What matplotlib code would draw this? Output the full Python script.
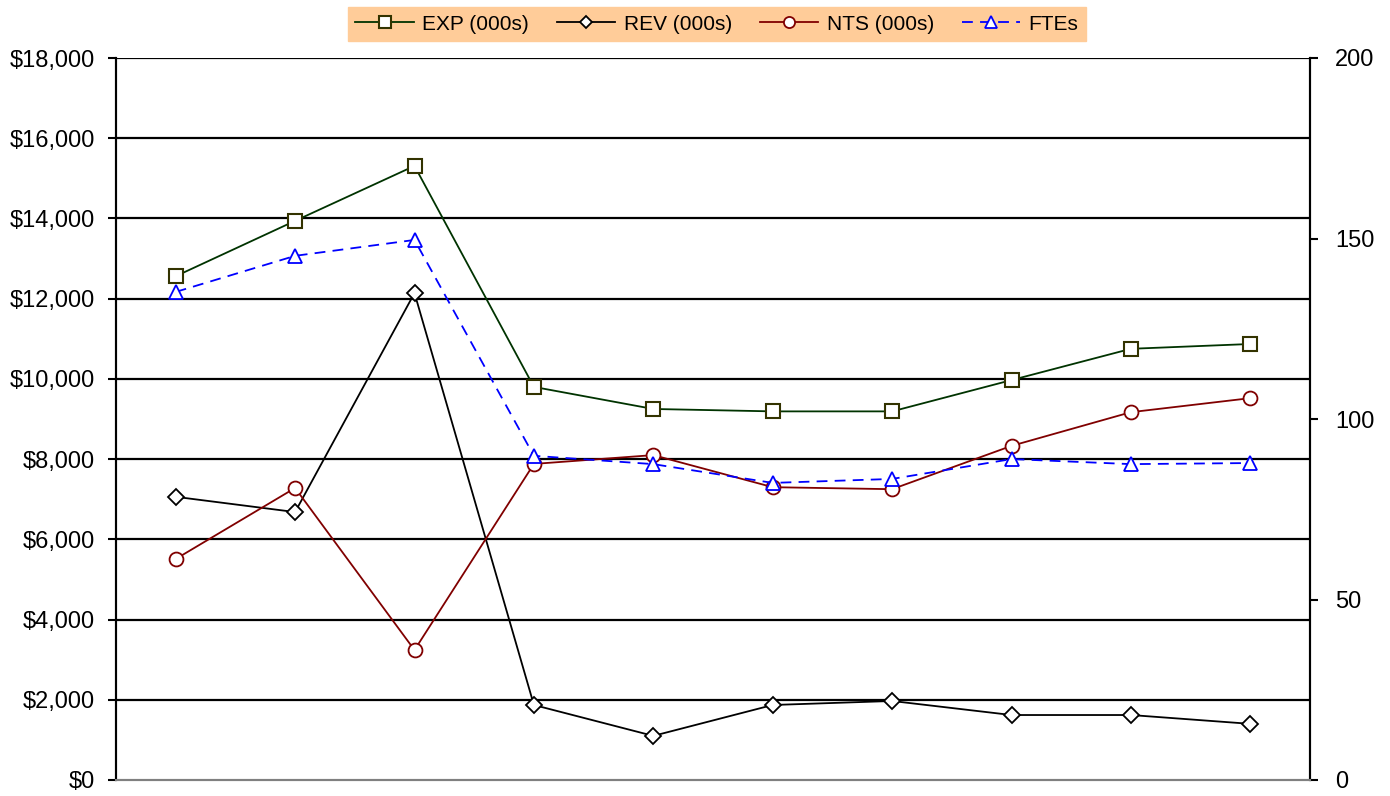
import matplotlib
matplotlib.use("Agg")
import matplotlib.pyplot as plt
from matplotlib.ticker import FuncFormatter

plt.rcParams['font.family'] = ['Liberation Sans', 'DejaVu Sans']

periods = list(range(10))
exp_vals = [12560, 13940, 15310, 9800, 9250, 9190, 9190, 9970, 10750, 10870]
rev_vals = [7060, 6680, 12140, 1870, 1100, 1870, 1970, 1620, 1620, 1400]
nts_vals = [5510, 7280, 3240, 7880, 8100, 7300, 7250, 8330, 9170, 9520]
fte_vals = [135.2, 145.2, 149.6, 89.8, 87.5, 82.3, 83.4, 88.9, 87.5, 87.8]
left_ticks = list(range(0, 18001, 2000))
right_ticks = [0, 50, 100, 150, 200]

fig = plt.figure(figsize=(13.9, 7.96), dpi=100)
ax = fig.add_axes([116/1390, 16/796, (1310-116)/1390, (780-58)/796])
ax2 = ax.twinx()

for y in left_ticks[1:]:
    ax.axhline(y, color='black', lw=1.6, zorder=0)

l1, = ax.plot(periods, exp_vals, color='#003300', lw=1.3, marker='s', ms=10,
              mfc='white', mec='#333300', mew=1.5, label='EXP (000s)', zorder=3)
l2, = ax.plot(periods, rev_vals, color='black', lw=1.3, marker='D', ms=8,
              mfc='white', mec='black', mew=1.3, label='REV (000s)', zorder=3)
l3, = ax.plot(periods, nts_vals, color='#800000', lw=1.3, marker='o', ms=10,
              mfc='white', mec='#800000', mew=1.3, label='NTS (000s)', zorder=3)
l4, = ax2.plot(periods, fte_vals, color='#0000FF', lw=1.3, ls=(0, (6, 4)), marker='^', ms=10,
               mfc='white', mec='#0000FF', mew=1.3, label='FTEs', zorder=3)

ax.set_xlim(-0.5, 9.5)
ax.set_ylim(0, 18000)
ax2.set_ylim(0, 200)
ax.set_yticks(left_ticks)
ax2.set_yticks(right_ticks)
ax.yaxis.set_major_formatter(FuncFormatter(lambda v, p: f"${int(v):,}"))
ax.set_xticks([])

for a in (ax, ax2):
    a.spines['top'].set_visible(False)
    a.spines['bottom'].set_color('#808080')
    a.spines['bottom'].set_linewidth(1.5)
    a.spines['left'].set_linewidth(1.5)
    a.spines['right'].set_linewidth(1.5)
    a.tick_params(axis='y', labelsize=17, width=1.5, length=6, direction='out', pad=9)

ax.tick_params(axis='y', left=True, right=False)
ax2.tick_params(axis='y', left=False, right=True, pad=12)

leg = fig.legend(handles=[l1, l2, l3, l4], loc='center', bbox_to_anchor=(717/1390, 1 - 24/796),
                 ncol=4, fontsize=15, frameon=True, fancybox=False, handlelength=2.8,
                 columnspacing=1.35, handletextpad=0.4, borderpad=0.35, markerscale=0.8)
leg.get_frame().set_facecolor('#FFCC99')
leg.get_frame().set_edgecolor('#FFCC99')
leg.get_frame().set_alpha(1)

fig.savefig('out.png', dpi=100)
